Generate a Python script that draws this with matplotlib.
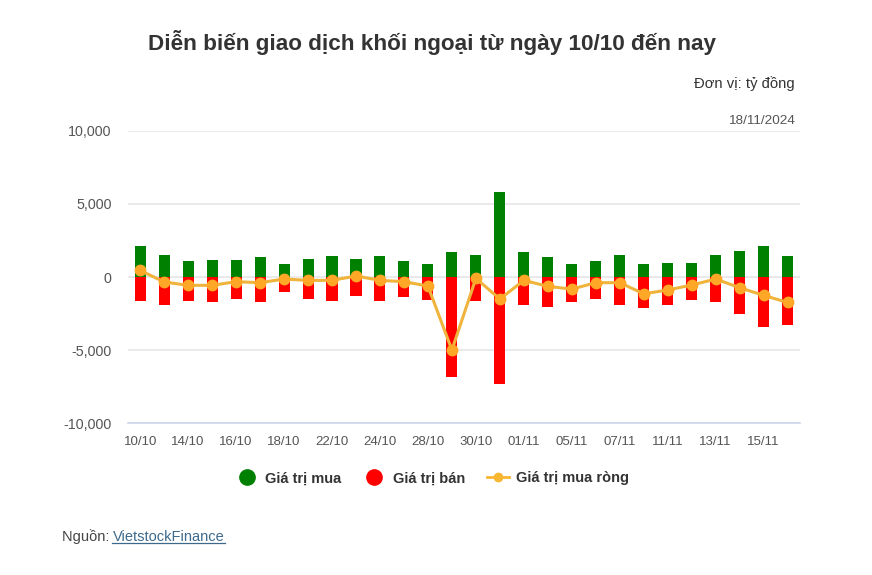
import matplotlib.pyplot as plt
import numpy as np
from matplotlib.lines import Line2D

plt.rcParams['font.family'] = ['Liberation Sans', 'DejaVu Sans']

# trading days from 10/10 to 18/11/2024
dates = ['10/10', '11/10', '14/10', '15/10', '16/10', '17/10', '18/10',
         '21/10', '22/10', '23/10', '24/10', '25/10', '28/10', '29/10',
         '30/10', '31/10', '01/11', '04/11', '05/11', '06/11', '07/11',
         '08/11', '11/11', '12/11', '13/11', '14/11', '15/11', '18/11']

# values in ty dong
buy = [2100, 1510, 1080, 1170, 1170, 1350, 920, 1260, 1420, 1260, 1420,
       1080, 920, 1700, 1510, 5820, 1700, 1350, 920, 1080, 1510, 920, 990,
       990, 1510, 1760, 2110, 1420]
sell = [-1670, -1950, -1670, -1740, -1490, -1740, -1050, -1490, -1670,
        -1330, -1670, -1400, -1580, -6830, -1670, -7330, -1920, -2020,
        -1740, -1490, -1920, -2090, -1920, -1580, -1740, -2520, -3390, -3300]
net = [450, -340, -570, -570, -320, -390, -140, -230, -230, 70, -230,
       -320, -620, -5000, -90, -1510, -230, -640, -830, -390, -390, -1150,
       -890, -550, -140, -730, -1260, -1740]

fig = plt.figure(figsize=(8.72, 5.75), dpi=100)
ax = fig.add_axes([0.147, 0.2643, 0.770, 0.5079])

x = np.arange(len(dates))
ax.bar(x, buy, width=0.46, color='#008000', zorder=2)
ax.bar(x, sell, width=0.46, color='#ff0000', zorder=2)
ax.plot(x, net, color='#f0b43c', lw=2.2, marker='o', ms=7.5,
        markerfacecolor='#ffa726', markeredgecolor='#ffa726', zorder=3)

ax.set_xlim(-0.5, len(dates) - 0.5)
ax.set_ylim(-10000, 10000)
ax.set_yticks([-10000, -5000, 0, 5000, 10000])
ax.set_yticklabels(['-10,000', '-5,000', '0', '5,000', '10,000'])
ax.set_xticks(x[::2])
ax.set_xticklabels(dates[::2])
ax.tick_params(axis='both', length=0, labelsize=9.5, labelcolor='#555555')
ax.tick_params(axis='y', labelsize=10.3, pad=12)
ax.tick_params(axis='x', pad=9)
ax.grid(axis='y', color='#e6e6e6', lw=1.2, zorder=0)
ax.set_axisbelow(True)
for s in ['top', 'right', 'left']:
    ax.spines[s].set_visible(False)
ax.spines['bottom'].set_color('#ccd6eb')
ax.spines['bottom'].set_linewidth(1.2)

# texts around the chart
fig.text(0.495, 0.926, 'Diễn biến giao dịch khối ngoại từ ngày 10/10 đến nay',
         ha='center', va='center', fontsize=16.2, fontweight='bold', color='#333333')
fig.text(0.911, 0.855, 'Đơn vị: tỷ đồng', ha='right', va='center',
         fontsize=10.7, color='#333333')
fig.text(0.911, 0.789, '18/11/2024', ha='right', va='center',
         fontsize=9.7, color='#555555')

handles = [
    Line2D([], [], ls='none', marker='o', ms=11, color='#008000'),
    Line2D([], [], ls='none', marker='o', ms=11, color='#ff0000'),
    Line2D([], [], color='#f7b731', lw=2, marker='o', ms=6,
           markerfacecolor='#f7b731', markeredgecolor='#f7b731'),
]
leg = fig.legend(handles, ['Giá trị mua', 'Giá trị bán', 'Giá trị mua ròng'],
                 loc='center', bbox_to_anchor=(0.496, 0.168), ncol=3,
                 frameon=False, handlelength=1.5, columnspacing=1.5,
                 handletextpad=0.5, prop={'weight': 'bold', 'size': 10.5})
for t in leg.get_texts():
    t.set_color('#333333')

fig.text(0.071, 0.066, 'Nguồn: ', ha='left', va='center', fontsize=10.5,
         color='#444444')
fig.text(0.129, 0.066, 'VietstockFinance', ha='left', va='center',
         fontsize=10.5, color='#3d6a8c')
fig.add_artist(Line2D([0.129, 0.258], [0.055, 0.055], color='#3d6a8c', lw=0.9))

fig.savefig('out.png', dpi=100, facecolor='white')
